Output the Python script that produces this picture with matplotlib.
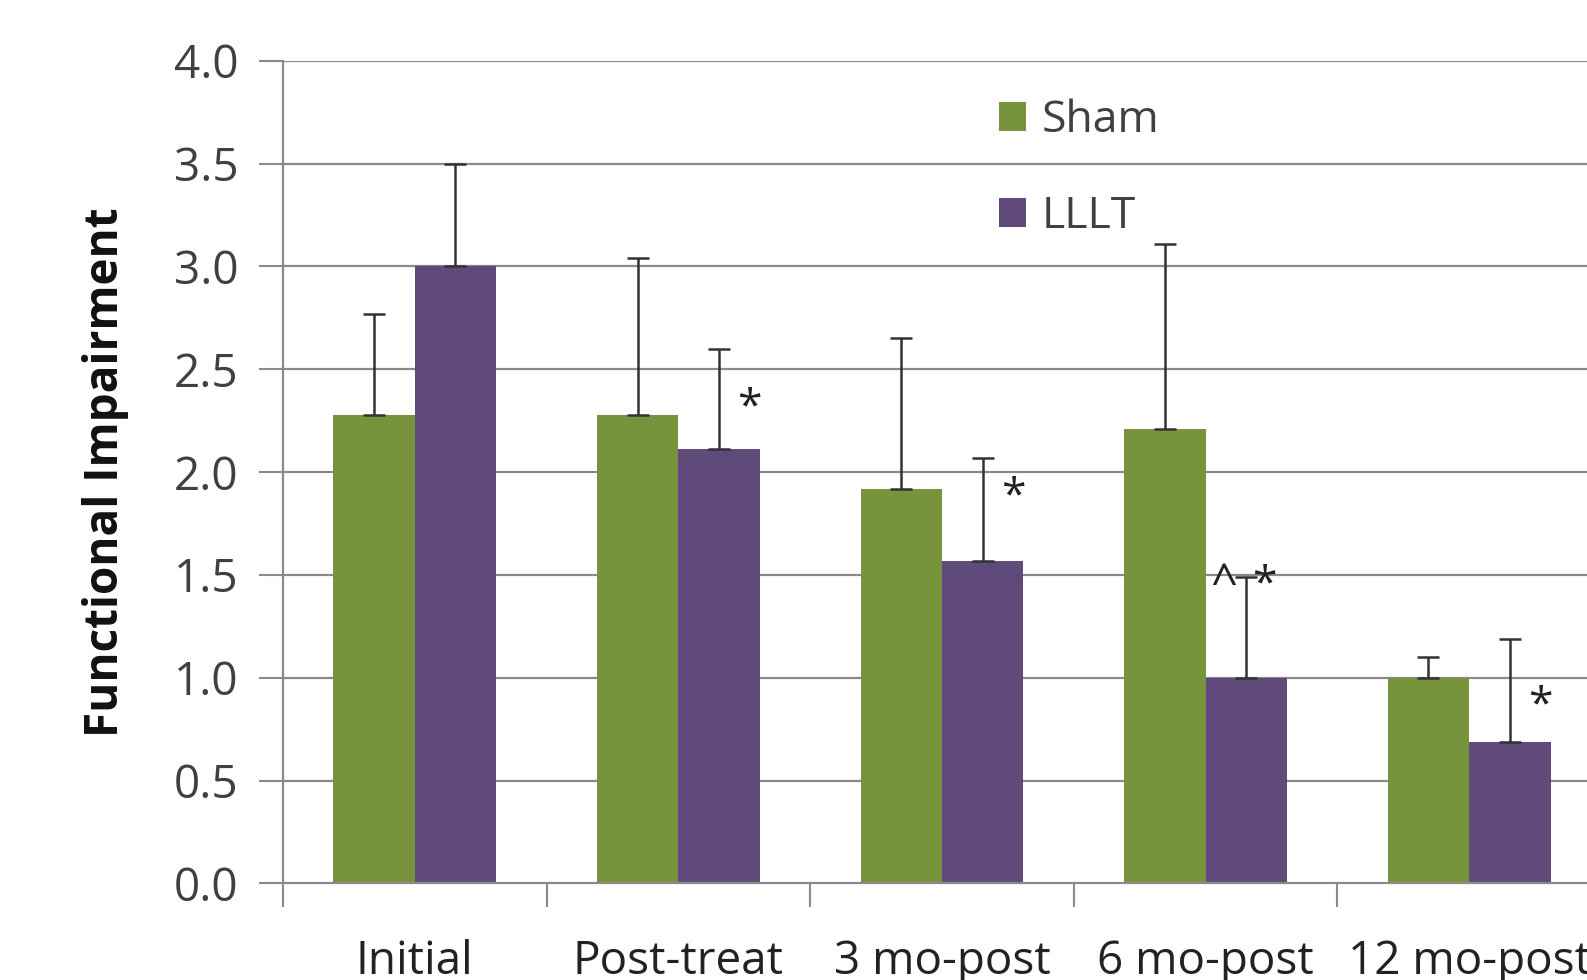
import numpy as np
import matplotlib.pyplot as plt

# group labels and the two treatment arms
categories = ["Initial", "Post-treat", "3 mo-post", "6 mo-post", "12 mo-post"]
sham = [2.28, 2.28, 1.92, 2.21, 1.00]
sham_err = [0.49, 0.76, 0.73, 0.90, 0.10]
lllt = [3.00, 2.11, 1.57, 1.00, 0.69]
lllt_err = [0.50, 0.49, 0.50, 0.49, 0.50]

# significance marks: (group index, text, height)
marks = [(1, "*", 2.31), (2, "*", 1.88), (3, "^", 1.45), (3, "*", 1.45),
         (4, "*", 0.86)]

green = "#77933c"
purple = "#604a7b"
grey = "#8a8a8a"
txt = "#404040"

plt.rcParams["font.family"] = ["Open Sans", "DejaVu Sans"]

fig = plt.figure(figsize=(15.87, 9.8), dpi=100)
ax = fig.add_axes([0.1783, 0.0985, 0.8305, 0.8395])

x = np.arange(len(categories))
w = 0.309

for v in np.arange(0.5, 4.01, 0.5):
    ax.axhline(v, color=grey, lw=1.6, zorder=0)

ax.bar(x - w / 2, sham, w, color=green, label="Sham", zorder=2)
ax.bar(x + w / 2, lllt, w, color=purple, label="LLLT", zorder=2)

# upper error bars only
ax.errorbar(x - w / 2, sham, yerr=[np.zeros(len(sham)), sham_err], fmt="none",
            ecolor="#333333", elinewidth=1.8, capsize=8, capthick=1.8,
            zorder=3)
ax.errorbar(x + w / 2, lllt, yerr=[np.zeros(len(lllt)), lllt_err], fmt="none",
            ecolor="#333333", elinewidth=1.8, capsize=8, capthick=1.8,
            zorder=3)

for i, s, h in marks:
    if s == "^":
        ax.text(i + 0.07, h, s, ha="center", va="center", fontsize=34,
                color="#222222")
    else:
        off = 0.224 if i == 3 else 0.27
        ax.text(i + off, h, s, ha="center", va="center", fontsize=32,
                color="#222222")

ax.set_xlim(-0.5, 4.5)
ax.set_ylim(0, 4.0)
ax.set_yticks(np.arange(0, 4.01, 0.5))
ax.set_yticklabels([f"{v:.1f}" for v in np.arange(0, 4.01, 0.5)])
ax.set_xticks(np.arange(-0.5, 4.0, 1.0))
ax.set_xticklabels([])
ax.set_xticks(x, minor=True)
ax.set_xticklabels(categories, minor=True)

ax.tick_params(axis="y", length=17, width=1.5, color=grey, labelsize=33,
               labelcolor=txt, pad=15)
ax.tick_params(axis="x", which="major", length=17, width=1.5, color=grey)
ax.tick_params(axis="x", which="minor", length=0, labelsize=33,
               labelcolor="#222222", pad=40)

for side in ["top", "right"]:
    ax.spines[side].set_visible(False)
for side in ["left", "bottom"]:
    ax.spines[side].set_color(grey)
    ax.spines[side].set_linewidth(1.6)

ax.set_ylabel("Functional Impairment", fontsize=33, fontweight="bold",
              color="#111111", labelpad=32)

ax.legend(loc="upper left", bbox_to_anchor=(0.604, 0.94),
          bbox_transform=fig.transFigure, frameon=False, fontsize=32,
          handlelength=0.62, handleheight=0.62, handletextpad=0.35,
          labelspacing=1.15, labelcolor=txt)

fig.savefig("out.png", dpi=100)
